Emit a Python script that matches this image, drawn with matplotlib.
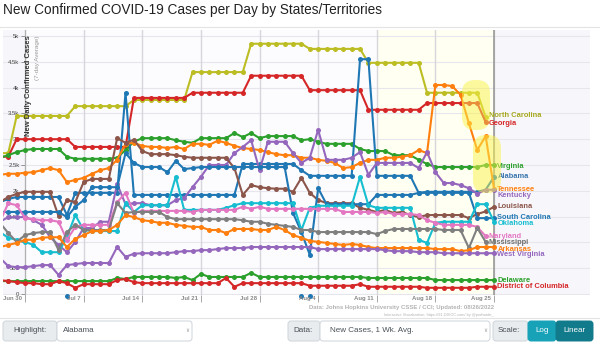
import numpy as np
import pandas as pd
import matplotlib
matplotlib.use("Agg")
import matplotlib.pyplot as plt
import matplotlib.dates as mdates
import matplotlib.transforms as mtransforms
from matplotlib.patches import FancyBboxPatch

plt.rcParams["font.family"] = ["Liberation Sans", "DejaVu Sans"]

# daily values, 7-day average, Jun 27 .. Aug 25 2022
dates = pd.date_range("2022-06-27", "2022-08-25", freq="D")

north_carolina = [2730, 2730,
                  3450, 3450, 3450, 3450, 3450, 3450, 3450,
                  3640, 3640, 3640, 3640, 3640, 3640, 3640,
                  3760, 3760, 3760, 3760, 3760, 3760, 3760,
                  4300, 4300, 4300, 4300, 4300, 4300, 4300,
                  4850, 4850, 4850, 4850, 4850, 4850, 4850,
                  4750, 4750, 4750, 4750, 4750, 4750, 4750,
                  4480, 4480, 4480, 4480, 4480, 4480, 4480,
                  3900, 3900, 3900, 3900, 3900, 3900, 3900,
                  3430]
georgia = [2660, 2660,
           3000, 3000, 3000, 3000, 3000, 3000, 3000,
           2850, 2850, 2850, 2850, 2850, 2850, 2850,
           3800, 3800, 3800, 3800, 3800, 3800, 3800,
           3900, 3900, 3900, 3900, 3900, 3900, 3900,
           4230, 4230, 4230, 4230, 4230, 4230, 4230,
           3950, 3950, 3950, 3950, 3950, 3950, 3950,
           3570, 3570, 3570, 3570, 3570, 3570, 3570,
           3700, 3700, 3700, 3700, 3700, 3700, 3700,
           3330]
virginia = [2640, 2690, 2750, 2790, 2810, 2810, 2810, 2810, 2660, 2620,
            2620, 2620, 2620, 2620, 2640, 2790, 2950, 3020, 3020, 3020,
            3020, 2980, 2950, 2930, 3020, 3020, 3020, 3020, 3120, 3040,
            3120, 3020, 3060, 3060, 3060, 3060, 2980, 3000, 2950, 2910,
            2910, 2910, 2910, 2810, 2770, 2770, 2770, 2690, 2690, 2690,
            2600, 2520, 2460, 2460, 2460, 2460, 2460, 2460, 2500, 2500]
tennessee = [2310, 2330, 2330, 2350, 2360, 2400, 2440, 2400, 2170, 2210,
             2250, 2330, 2400, 2440, 2600, 2910, 2930, 2870, 2850, 2850,
             2830, 2850, 2810, 2910, 2910, 2890, 2970, 2930, 2870, 2830,
             2810, 2790, 2750, 2710, 2690, 2690, 2640, 2640, 2600, 2580,
             2540, 2440, 2460, 2540, 2600, 2600, 2640, 2640, 2660, 2690,
             2790, 2730, 4050, 4050, 4030, 3860, 3310, 2790, 3060, 2040]
alabama = [1780, 1840, 1880, 1880, 1880, 1880, 1880, 1880, 1530, 1960,
           1960, 1960, 1960, 1960, 1960, 3900, 1920, 1920, 1920, 1920,
           1920, 1920, 1920, 1920, 1920, 1920, 1920, 1920, 1920, 2520,
           2520, 2520, 2520, 2520, 2520, 2520, 2400, 2290, 2290, 2290,
           2290, 2290, 2290, 4550, 4550, 2290, 2290, 2290, 2290, 2290,
           1960, 1980, 1980, 1980, 1980, 1980, 1980, 1980, 2020, 2270]
kentucky = [1400, 1490, 1490, 1490, 1430, 1340, 1100, 950, 810, 1010,
            1280, 1280, 1400, 1400, 2130, 1740, 1760, 1760, 1720, 1720,
            1720, 1820, 1860, 2070, 2270, 2500, 2500, 2500, 2730, 2850,
            2980, 2400, 2950, 2950, 2950, 2730, 2540, 2640, 3180, 2600,
            2600, 2600, 2640, 2750, 2310, 2540, 2540, 2540, 2540, 2540,
            2440, 2750, 2360, 2150, 2150, 2110, 2050, 1940, 2020, 2020]
louisiana = [1780, 1880, 1940, 1980, 1980, 1980, 1980, 1510, 1820, 1780,
             2170, 2230, 2230, 2230, 3020, 2930, 2990, 2770, 2710, 2710,
             2710, 2690, 2660, 2640, 2640, 2640, 2640, 2640, 2440, 1920,
             2110, 2070, 2050, 2040, 2040, 1980, 2250, 1960, 1820, 1760,
             1760, 1760, 1760, 1670, 1630, 1590, 1630, 1570, 1590, 1530,
             1490, 1530, 1530, 1530, 1530, 1530, 1470, 1550, 1600, 1690]
south_carolina = [1590, 1590, 1590, 1590, 1590, 1590, 1590, 1590, 1490, 1690,
                  1820, 2070, 2070, 2070, 2070, 2730, 2540, 2460, 2460, 2460,
                  2360, 2580, 2420, 2440, 2460, 2460, 2460, 2460, 2460, 2460,
                  2460, 2460, 2460, 2460, 2460, 1570, 1200, 760, 2050, 1740,
                  1740, 1740, 1740, 1740, 1740, 1920, 1920, 1920, 1920, 1920,
                  1960, 1960, 1960, 1960, 1960, 1960, 1960, 1470, 1470, 1470]
oklahoma = [1200, 1090, 1050, 1010, 950, 810, 810, 810, 1100, 1530,
            1240, 1220, 1220, 1220, 1220, 1760, 1590, 1720, 1720, 1720,
            1720, 2270, 1630, 1630, 1630, 1630, 1630, 1670, 1720, 1760,
            1760, 1760, 1760, 1760, 1760, 1760, 1240, 1670, 1710, 1710,
            1710, 1710, 1710, 2270, 1720, 1670, 1670, 1670, 1670, 1670,
            1050, 990, 1380, 1400, 1400, 1400, 1400, 1740, 1740, 1400]
maryland = [1400, 1760, 1720, 1470, 1450, 1430, 1430, 1400, 1050, 1300,
            1340, 1340, 1340, 1340, 1780, 1960, 1570, 1610, 1610, 1610,
            1610, 1610, 1610, 1590, 1630, 1630, 1630, 1630, 1630, 1690,
            1650, 1690, 1650, 1650, 1650, 1650, 1650, 1650, 1650, 1650,
            1650, 1590, 1590, 1590, 1590, 1570, 1590, 1550, 1550, 1550,
            1530, 1430, 1380, 1340, 1340, 1340, 1340, 1300, 1120]
mississippi = [1380, 1180, 1010, 1140, 1180, 1200, 1200, 850, 1200, 1340,
               1240, 1240, 1240, 1240, 1760, 1570, 1590, 1590, 1590, 1590,
               1490, 1450, 1450, 1450, 1450, 1450, 1450, 1450, 1450, 1430,
               1400, 1400, 1360, 1340, 1320, 1300, 1240, 1240, 1200, 1200,
               1200, 1200, 1200, 1200, 1200, 1160, 1220, 1260, 1260, 1260,
               1260, 1260, 1260, 1240, 1240, 1240, 890, 1280, 1010]
arkansas = [910, 950, 990, 1050, 1050, 1090, 1100, 1100, 910, 1070,
            1140, 1220, 1220, 1240, 1340, 1530, 1490, 1430, 1410, 1380,
            1380, 1340, 1320, 1300, 1300, 1240, 1240, 1180, 1260, 1260,
            1260, 1240, 1240, 1300, 1240, 1140, 1090, 1030, 1010, 990,
            970, 950, 970, 950, 910, 890, 890, 890, 890, 890,
            890, 890, 870, 870, 870, 830, 850, 910, 910, 910]
west_virginia = [700, 540, 520, 520, 540, 560, 560, 370, 560, 580,
                 600, 600, 600, 600, 910, 720, 780, 790, 790, 790,
                 790, 810, 830, 830, 850, 850, 870, 890, 890, 890,
                 910, 910, 910, 910, 910, 910, 910, 910, 870, 870,
                 870, 870, 870, 870, 870, 870, 850, 830, 830, 830,
                 810, 810, 810, 790, 790, 790, 790, 790, 790, 790]
delaware = [250, 250, 250, 250, 250, 250, 250, 250, 250, 250,
            250, 250, 250, 250, 310, 290, 330, 330, 330, 330,
            330, 310, 330, 270, 390, 330, 330, 330, 330, 330,
            410, 330, 330, 330, 330, 330, 330, 330, 330, 330,
            330, 330, 330, 330, 310, 310, 310, 310, 310, 310,
            310, 310, 270, 270, 270, 270, 270, 270, 270, 270]
dc = [270, 250, 230, 210, 210, 190, 190, 250, 210, 120,
      190, 190, 190, 190, 270, 290, 230, 210, 210, 210,
      210, 210, 210, 210, 210, 210, 210, 310, 140, 210,
      210, 210, 210, 210, 210, 210, 210, 160, 160, 160,
      160, 160, 160, 190, 140, 140, 140, 140, 140, 140,
      140, 120, 120, 120, 120, 120, 120, 140, 140, 140]

# stray points plotted on the axis
zero_dates = pd.to_datetime(["2022-07-05", "2022-08-02", "2022-08-03"])
zero_vals = [-40, -40, -40]

names = ["North Carolina", "Georgia", "Virginia", "Alabama", "Tennessee",
         "Kentucky", "Louisiana", "South Carolina", "Oklahoma", "Maryland",
         "Mississippi", "Arkansas", "West Virginia", "Delaware",
         "District of Columbia"]
values = [north_carolina, georgia, virginia, alabama, tennessee, kentucky,
          louisiana, south_carolina, oklahoma, maryland, mississippi,
          arkansas, west_virginia, delaware, dc]
colors = ["#bcbd22", "#d62728", "#2ca02c", "#1f77b4", "#ff7f0e", "#9467bd",
          "#8c564b", "#1f77b4", "#17becf", "#e377c2", "#7f7f7f", "#ff7f0e",
          "#9467bd", "#2ca02c", "#d62728"]
label_colors = ["#a8a91e", "#d62728", "#2ca02c", "#3a76ad", "#ff7f0e",
                "#9467bd", "#8c564b", "#1f77b4", "#17becf", "#e377c2",
                "#6d6d6d", "#ff7f0e", "#9467bd", "#2ca02c", "#d62728"]
label_y = [3450, 3310, 2480, 2270, 2020, 1900, 1690, 1490, 1360, 1110,
           990, 870, 760, 270, 140]

yticks = [0, 500, 1000, 1500, 2000, 2500, 3000, 3500, 4000, 4500, 5000]
ytick_labels = ["0", "500", "1k", "1.5k", "2k", "2.5k", "3k", "3.5k", "4k",
                "4.5k", "5k"]
xticks = pd.date_range("2022-06-30", "2022-08-25", freq="7D")
xtick_labels = ["Jun 30", "Jul 7", "Jul 14", "Jul 21", "Jul 28", "Aug 4",
                "Aug 11", "Aug 18", "Aug 25"]

W, H = 600, 342
fig = plt.figure(figsize=(W / 100, H / 100), dpi=100)
fig.patch.set_facecolor("white")

# axes spans x 3..590 px, y 30..295 px
ax = fig.add_axes([3 / W, 1 - 295 / H, 587 / W, 265 / H])
ax.set_facecolor("#f7f7fb")

day = pd.Timedelta(days=1)
x0 = mdates.date2num(xticks[0])
ax.set_xlim(x0 - 2.63, x0 + 67.46)
ax.set_ylim(-19.4, 5116)

ax.axvspan(xticks[6], xticks[8], color="#fffff2", zorder=0)
ax.axvspan(xticks[0], xticks[6], color="#fcfcfe", zorder=0)

for t in yticks:
    ax.axhline(t, color="#e6e6ec", lw=0.8, zorder=1)
for t in xticks:
    ax.axvline(t, color="#d6d6dc", lw=1.0, zorder=1)
ax.axvline(xticks[-1], color="#9a9a9a", lw=1.2, zorder=1)

for name, v, c, lc, ly in zip(names, values, colors, label_colors, label_y):
    ax.plot(dates[:len(v)], v, color=c, lw=1.5, marker="o", ms=3.6,
            mew=0, zorder=3, solid_joinstyle="round")
    ax.text(dates[len(v) - 1] + 0.4 * day, ly, name, color=lc, fontsize=5.4,
            fontweight="bold", va="center", ha="left", zorder=5)

ax.plot(zero_dates, zero_vals, ls="none", marker="o", ms=3.6, mew=0,
        color="#1f77b4", clip_on=False, zorder=3)

# y axis sits on Jun 30
for s in ["top", "right", "bottom"]:
    ax.spines[s].set_visible(False)
ax.spines["left"].set_position(("data", x0))
ax.spines["left"].set_color("#b0b0b0")
ax.set_yticks(yticks)
ax.set_yticklabels(ytick_labels)
ax.tick_params(axis="y", direction="out", length=3, width=0.6, pad=1,
               labelsize=4.3, labelcolor="#444444", colors="#888888")

ax.set_xticks(xticks)
ax.tick_params(axis="x", direction="out", length=5, width=0.6,
               colors="#999999", labelbottom=False)
blend = mtransforms.blended_transform_factory(ax.transData, ax.transAxes)
for t, lab in zip(xticks, xtick_labels):
    ax.text(t - 0.35 * day, -0.012, lab, transform=blend, ha="right",
            va="center", fontsize=4.3, color="#888888", fontweight="bold")

# yellow hand highlights
ident = mtransforms.IdentityTransform()
for (hx, hy, hw, hh) in [(462, 80, 28, 50), (473, 135, 28, 58)]:
    fig.add_artist(FancyBboxPatch((hx, H - hy - hh), hw, hh,
                                  boxstyle="round,pad=0,rounding_size=13",
                                  transform=ident, facecolor="#fbf34a",
                                  edgecolor="none", alpha=0.5, zorder=2))

fig.text(3 / W, 1 - 10 / H,
         "New Confirmed COVID-19 Cases per Day by States/Territories",
         fontsize=9.8, color="#222222", va="center", ha="left")
fig.text(29 / W, 1 - 35 / H, "New Daily Confirmed Cases", rotation=90,
         fontsize=5.5, fontweight="bold", color="#333333", va="top", ha="center")
fig.text(37 / W, 1 - 35 / H, "(7-day Average)", rotation=90,
         fontsize=4.5, color="#9a9a9a", va="top", ha="center")

fig.text(494 / W, 1 - 308 / H,
         "Data: Johns Hopkins University CSSE / CCI; Updated: 08/26/2022",
         fontsize=4.3, fontweight="bold", color="#b3b3b3", ha="right", va="center")
fig.text(494 / W, 1 - 315 / H,
         "Interactive Visualization: https://91-DIVOC.com/ by @profwade_",
         fontsize=2.8, color="#b3b3b3", ha="right", va="center")

# card border and controls
fig.add_artist(plt.Line2D([0, 1], [1 - 318 / H, 1 - 318 / H],
                          transform=fig.transFigure, color="#e3e3e3", lw=0.8))
fig.add_artist(plt.Line2D([0, 1], [1 - 27 / H, 1 - 27 / H],
                          transform=fig.transFigure, color="#e3e3e3", lw=0.8))


def box(x, y, w, h, fc, ec="#ced4da"):
    fig.add_artist(FancyBboxPatch((x, H - y - h), w, h,
                                  boxstyle="round,pad=0,rounding_size=3",
                                  transform=ident, facecolor=fc,
                                  edgecolor=ec, lw=0.7))


box(3, 321, 54, 20, "#e9ecef")
box(57, 321, 135, 20, "white")
box(288, 321, 32, 20, "#e9ecef")
box(320, 321, 170, 20, "white")
box(493, 321, 35, 20, "#e9ecef")
box(528, 321, 28, 20, "#17a2b8", "#17a2b8")
box(556, 321, 37, 20, "#117a8b", "#117a8b")

ctrl = dict(fontsize=5.8, color="#495057", va="center")
fig.text(13 / W, 1 - 331 / H, "Highlight:", **ctrl)
fig.text(63 / W, 1 - 331 / H, "Alabama", **ctrl)
fig.text(187 / W, 1 - 331 / H, "\u2228", fontsize=4, color="#999999",
         va="center", ha="center")
fig.text(293 / W, 1 - 331 / H, "Data:", **ctrl)
fig.text(330 / W, 1 - 331 / H, "New Cases, 1 Wk. Avg.", **ctrl)
fig.text(485 / W, 1 - 331 / H, "\u2228", fontsize=4, color="#999999",
         va="center", ha="center")
fig.text(498 / W, 1 - 331 / H, "Scale:", **ctrl)
fig.text(542 / W, 1 - 331 / H, "Log", fontsize=5.8, color="white",
         va="center", ha="center")
fig.text(574.5 / W, 1 - 331 / H, "Linear", fontsize=5.8, color="white",
         va="center", ha="center")

fig.savefig("out.png", dpi=100)
